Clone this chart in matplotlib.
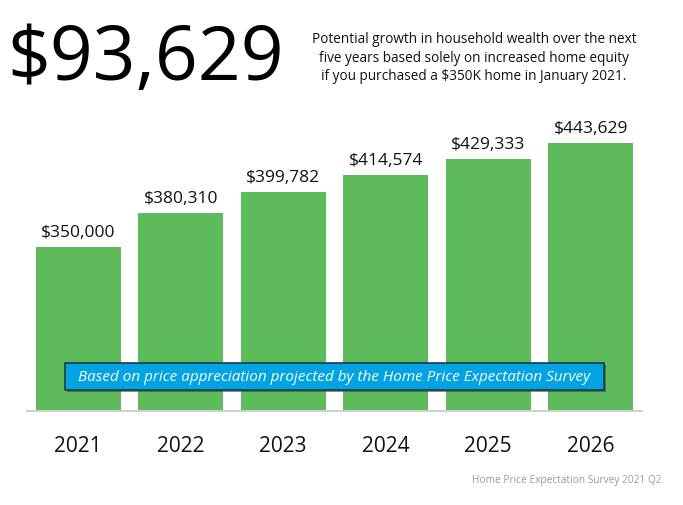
import matplotlib.pyplot as plt
from matplotlib.patches import Rectangle

plt.rcParams['font.family'] = ['Open Sans', 'DejaVu Sans']

years = ['2021', '2022', '2023', '2024', '2025', '2026']
values = [350000, 380310, 399782, 414574, 429333, 443629]
labels = ['$350,000', '$380,310', '$399,782', '$414,574', '$429,333', '$443,629']

headline = '$93,629'
subtitle = ('Potential growth in household wealth over the next\n'
            'five years based solely on increased home equity\n'
            'if you purchased a $350K home in January 2021.')
banner = 'Based on price appreciation projected by the Home Price Expectation Survey'
source = 'Home Price Expectation Survey 2021 Q2'

green = '#5DBB5B'
blue = '#00A4E2'

fig = plt.figure(figsize=(6.83, 5.06), dpi=100)
ax = fig.add_axes([27 / 683, 94 / 506, 615 / 683, 312 / 506])

x = range(len(years))
bars = ax.bar(x, values, width=0.832, color=green, zorder=2)
ax.set_ylim(203000, 483000)
ax.set_xlim(-0.5, len(years) - 0.5)

for b, lab in zip(bars, labels):
    ax.annotate(lab, (b.get_x() + b.get_width() / 2, b.get_height()),
                xytext=(0, 5), textcoords='offset points',
                ha='center', va='bottom', fontsize=12.5, color='#111111')

ax.set_xticks(list(x))
ax.set_xticklabels(years, fontsize=15, color='#111111')
ax.tick_params(axis='x', length=0, pad=17)
ax.set_yticks([])
for side in ['top', 'right', 'left']:
    ax.spines[side].set_visible(False)
ax.spines['bottom'].set_color('#D0D0D0')
ax.spines['bottom'].set_linewidth(1.5)
ax.spines['bottom'].set_zorder(3)

# headline and explanation
fig.text(7 / 683, 1 - 61 / 506, headline, fontsize=54, ha='left', va='center',
         color='#000000')
fig.text(474 / 683, 1 - 58 / 506, subtitle, fontsize=9.8, ha='center',
         va='center', color='#111111', linespacing=1.3)

# banner across the bars
bx, by, bw, bh = 65 / 683, 1 - 391 / 506, 539 / 683, 27 / 506
fig.patches.append(Rectangle((bx + 2 / 683, by - 2 / 506), bw, bh,
                             transform=fig.transFigure, facecolor='#3A4A3A',
                             edgecolor='none', alpha=0.6, zorder=4))
fig.patches.append(Rectangle((bx, by), bw, bh, transform=fig.transFigure,
                             facecolor=blue, edgecolor='#1B3A4B',
                             linewidth=1.2, zorder=5))
fig.text(bx + bw / 2, by + bh / 2, banner, fontsize=11, style='italic',
         color='white', ha='center', va='center', zorder=6)

fig.text(662 / 683, 1 - 481 / 506, source, fontsize=7.3, color='#9A9A9A',
         ha='right', va='center')

fig.savefig('out.png', dpi=100)
